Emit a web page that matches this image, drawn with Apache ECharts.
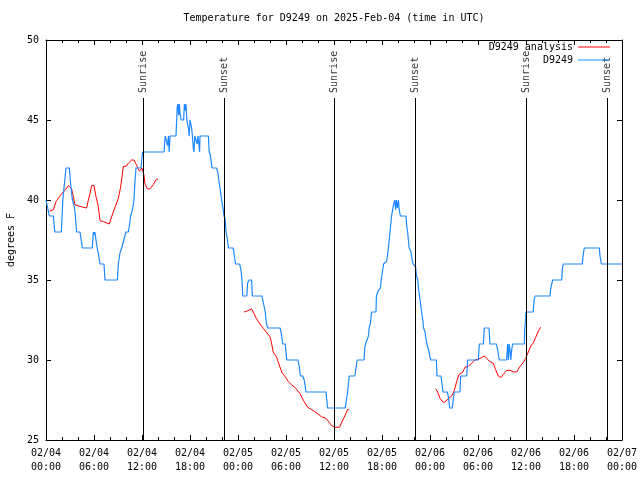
<!DOCTYPE html>
<html><head><meta charset="utf-8">
<script src="https://cdn.jsdelivr.net/npm/echarts@6/dist/echarts.min.js"></script>
<style>html,body{margin:0;padding:0;background:#fff}#c{width:640px;height:480px}</style>
</head><body><div id="c"></div>
<script>
const FONT = '"DejaVu Sans Mono", "Liberation Mono", monospace';

const xTickLabels = ['02/04\n00:00','02/04\n06:00','02/04\n12:00','02/04\n18:00',
  '02/05\n00:00','02/05\n06:00','02/05\n12:00','02/05\n18:00',
  '02/06\n00:00','02/06\n06:00','02/06\n12:00','02/06\n18:00','02/07\n00:00'];

// hours since 02/04 00:00 UTC
const eventHours = [12.17, 22.29, 36.04, 46.16, 60.04, 70.15];
const eventNames = ['Sunrise','Sunset','Sunrise','Sunset','Sunrise','Sunset'];

// D9249 analysis (null = gap)
const anaHours = [0.42,0.92,1.25,1.67,1.96,2.375,2.8,3.0,3.2,3.42,3.625,4.25,5.08,5.29,5.5,5.7,6.0,6.25,6.54,6.75,7.17,7.9,8.2,8.6,9.04,9.33,9.67,9.85,10.0,10.3,10.7,11.0,11.3,11.67,11.83,12.0,12.25,12.375,12.67,13.0,13.4,13.8,14.0,
  14.5,
  24.75,25.1,25.7,25.9,26.3,26.75,27.2,27.6,28.0,28.2,28.4,28.8,29.0,29.5,29.9,30.3,30.7,31.1,31.75,32.2,32.7,33.2,33.8,34.45,35.0,35.4,35.7,36.1,36.7,37.0,37.4,37.7,37.9,
  38.5,
  48.71,48.96,49.25,49.67,49.96,50.29,50.71,51.04,51.33,51.625,52.04,52.375,52.79,53.2,53.625,54.04,54.46,54.79,55.08,55.5,55.9,56.2,56.54,56.875,57.17,57.58,58.0,58.54,58.83,59.25,59.67,59.96,60.29,60.625,60.9,61.2,61.54,61.83];
const anaTemps = [39.3,39.4,39.9,40.2,40.4,40.6,40.9,41.0,40.7,40.2,39.7,39.6,39.5,40.0,40.4,40.9,40.9,40.2,39.6,38.7,38.65,38.5,38.95,39.5,40.1,40.8,42.1,42.2,42.1,42.3,42.5,42.5,42.2,41.8,41.7,42.0,41.55,41.0,40.7,40.7,40.95,41.3,41.3,
  null,
  33.0,33.05,33.2,33.0,32.6,32.25,31.95,31.7,31.45,31.05,30.5,30.2,29.9,29.2,28.95,28.65,28.45,28.3,27.9,27.45,27.05,26.9,26.7,26.45,26.35,26.1,25.9,25.8,25.8,26.15,26.55,26.9,26.9,
  null,
  28.2,28.0,27.6,27.35,27.4,27.6,27.75,28.1,28.65,29.1,29.2,29.55,29.6,29.8,30.0,30.05,30.15,30.25,30.1,29.9,29.8,29.4,29.0,28.9,29.1,29.35,29.35,29.25,29.25,29.6,29.85,30.1,30.5,30.9,31.05,31.4,31.8,32.05];

// D9249 observations
const obsHours = [0.0,0.2,0.42,0.92,1.1,1.92,2.1,2.4,2.5,2.92,3.08,3.3,3.54,3.67,3.83,4.25,4.54,5.79,5.92,6.0,6.1,6.25,6.4,6.6,6.75,7.25,7.375,8.92,9.04,9.25,9.46,9.7,10.0,10.3,10.45,10.58,10.8,11.0,11.1,11.25,11.875,12.0,12.08,14.75,14.9,15.08,15.2,15.3,15.4,15.5,16.25,16.33,16.4,16.5,16.58,16.67,16.75,16.9,17.2,17.3,17.4,17.5,17.6,17.8,17.9,18.0,18.1,18.2,18.3,18.4,18.5,18.6,18.8,18.9,19.0,19.2,19.25,20.3,20.4,20.55,20.75,21.3,21.45,21.67,21.85,21.96,22.15,22.25,22.4,22.5,22.65,22.8,23.4,23.6,23.7,24.2,24.35,24.5,24.6,25.1,25.2,25.4,25.7,25.8,27.0,27.2,27.4,27.55,27.7,29.25,29.4,29.6,29.9,30.1,31.5,31.65,31.8,32.1,32.3,32.5,35.0,35.1,35.2,37.4,37.55,37.7,37.8,37.9,38.6,38.75,38.9,39.75,39.85,39.95,40.3,40.4,40.55,40.7,41.25,41.3,41.5,41.8,41.9,42.05,42.2,42.6,42.8,43.0,43.2,43.4,43.6,43.7,43.8,43.9,44.05,44.15,44.3,45.0,45.1,45.2,45.4,45.6,45.75,45.9,46.2,46.3,46.46,46.6,46.75,46.9,46.96,47.1,47.2,47.4,47.5,47.6,47.8,48.0,48.1,48.79,48.875,49.375,49.5,49.625,50.17,50.3,50.46,50.79,50.9,51.04,51.75,51.83,52.58,52.71,54.04,54.17,54.67,54.79,55.375,55.5,56.3,56.5,56.67,57.58,57.7,57.8,57.9,58.0,58.1,58.2,58.33,59.79,59.85,59.95,60.0,60.9,61.0,61.125,63.0,63.1,63.33,64.46,64.55,64.67,67.04,67.15,67.29,69.17,69.25,69.42,72.0];
const obsTemps = [40,40,39,39,38,38,40,41.5,42,42,41,40,39.6,39,38,38,37,37,38,37.8,38,37.5,37,36.5,36,36,35,35,36,36.7,37,37,38,38,38.5,39,39.4,40,41,42,42,42.7,43,43,44,44,43.4,44,43,44,44,45,45.8,46,45.3,46,45.4,45,45,46,45.6,46,45,44.5,44,45,45,44.5,44,43.3,43,44,44,43.5,44,43,44,44,43,42.8,42,42,41.8,41,40.4,40,39.4,39,38.8,38,37.6,37,37,36.3,36,36,35.7,35,34,34,34.8,35,35,34,34,33.5,33,32.3,32,32,31.7,31,31,30,30,29.6,29,29,28.7,28,28,27.5,27,27,27.5,28,28.5,29,29,29.5,30,30,30.8,31,31.5,32,32.3,33,33,34,34.3,34.5,35,35.5,36,36.2,37,38,39,39.6,40,39.4,40,39.5,40,39.4,39,39,38.3,38,37,36.8,36.3,36,35.8,35.3,35,34.3,33.8,33.2,33,32.5,32,31.7,31.3,31,30.7,30.2,30,30,29,29,28.5,28,28,27.7,27,27,27.5,28,28,29,29,30,30,31,31,32,32,31,31,30.5,30,30,31,30,31,30.6,30,30.6,31,31,32,32.5,33,33,33.7,34,34,34.5,35,35,35.7,36,36,36.6,37,37,36.5,36,36];

const pair = (xs, ys) => xs.map((x, i) => [x, ys[i] == null ? '-' : ys[i]]);

const axisCommon = {
  axisLine: { show: true, onZero: false, lineStyle: { color: '#000', width: 1 } },
  axisTick: { show: true, inside: true, length: 5, lineStyle: { color: '#000', width: 1 } },
  splitLine: { show: false }
};

const chart = echarts.init(document.getElementById('c'), null, { renderer: 'canvas' });
chart.setOption({
  animation: false,
  backgroundColor: '#fff',
  title: {
    text: 'Temperature for D9249 on 2025-Feb-04 (time in UTC)',
    left: 334, top: 13, textAlign: 'center', padding: 0,
    textStyle: { fontFamily: FONT, fontSize: 10, fontWeight: 'normal', color: '#000' }
  },
  legend: {
    data: ['D9249 analysis', 'D9249'],
    orient: 'vertical', right: 30, top: 42, align: 'right',
    icon: 'rect', itemWidth: 32, itemHeight: 1, itemGap: 3, padding: 0,
    textStyle: { fontFamily: FONT, fontSize: 10, color: '#000' }
  },
  grid: { left: 46, right: 18, top: 40, bottom: 40, containLabel: false, outerBoundsMode: 'none' },
  xAxis: [
    Object.assign({}, axisCommon, {
      type: 'value', min: 0, max: 72, interval: 6, position: 'bottom',
      minorTick: { show: true, splitNumber: 3, length: 3, lineStyle: { color: '#000', width: 1 } },
      axisLabel: { formatter: v => xTickLabels[Math.round(v / 6)], fontFamily: FONT, fontSize: 10, color: '#000', lineHeight: 14, margin: 6 }
    }),
    Object.assign({}, axisCommon, {
      type: 'value', min: 0, max: 72, interval: 6, position: 'top',
      minorTick: { show: true, splitNumber: 3, length: 3, lineStyle: { color: '#000', width: 1 } },
      axisLabel: { show: false }
    })
  ],
  yAxis: [
    Object.assign({}, axisCommon, {
      type: 'value', min: 25, max: 50, interval: 5, position: 'left',
      name: 'degrees F', nameLocation: 'middle', nameGap: 30, nameRotate: 90,
      nameTextStyle: { fontFamily: FONT, fontSize: 10, color: '#000' },
      axisLabel: { fontFamily: FONT, fontSize: 10, color: '#000', margin: 7 }
    }),
    Object.assign({}, axisCommon, {
      type: 'value', min: 25, max: 50, interval: 5, position: 'right',
      axisLabel: { show: false }
    })
  ],
  series: [
    {
      name: 'events', type: 'scatter', symbolSize: 0, silent: true,
      data: eventHours.map(h => [h, 46.69]),
      label: {
        show: true, position: 'inside', rotate: 90, align: 'left', verticalAlign: 'middle',
        formatter: p => eventNames[p.dataIndex],
        fontFamily: FONT, fontSize: 10, color: '#000'
      },
      markLine: {
        silent: true, symbol: ['none', 'none'], animation: false,
        label: { show: false },
        lineStyle: { color: '#000', width: 1, type: 'solid' },
        emphasis: { disabled: true },
        data: eventHours.map(h => [{ coord: [h, 25] }, { coord: [h, 46.375] }])
      }
    },
    {
      name: 'D9249 analysis', type: 'line', data: pair(anaHours, anaTemps),
      showSymbol: false, symbol: 'none', connectNulls: false,
      lineStyle: { color: '#ff0000', width: 1 }, itemStyle: { color: '#ff0000' }
    },
    {
      name: 'D9249', type: 'line', data: pair(obsHours, obsTemps),
      showSymbol: false, symbol: 'none',
      lineStyle: { color: '#1e88ff', width: 1.2 }, itemStyle: { color: '#1e88ff' }
    }
  ]
});
</script>
</body></html>
